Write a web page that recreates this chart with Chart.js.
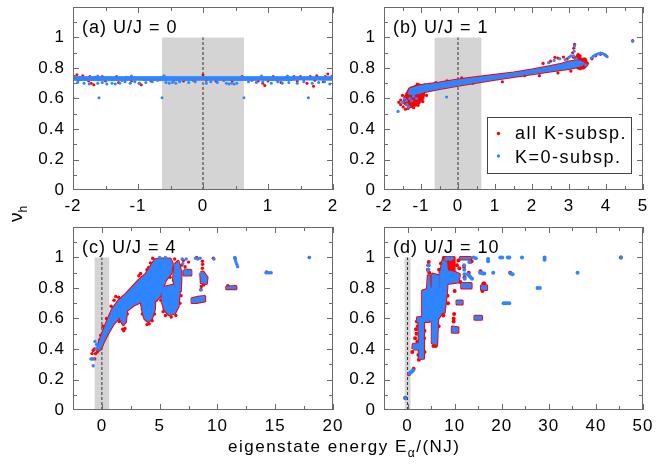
<!DOCTYPE html>
<html>
<head>
<meta charset="utf-8">
<title>nu_h vs eigenstate energy</title>
<script src="https://cdn.jsdelivr.net/npm/chart.js@4"></script>
<style>
  body { margin: 0; background: #fff; width: 668px; height: 470px; position: relative; overflow: hidden;
         font-family: 'Liberation Sans', Arial, Helvetica, sans-serif; }
  canvas { position: absolute; }
  .lab { position: absolute; color: #000; white-space: nowrap; }
  .lab sub { font-size: 12px; vertical-align: baseline; position: relative; top: 5px; }
</style>
</head>
<body>
<canvas id="pa" width="345" height="222" style="left:0;top:0"></canvas>
<canvas id="pb" width="338" height="222" style="left:330px;top:0"></canvas>
<canvas id="pc" width="345" height="222" style="left:0;top:220px"></canvas>
<canvas id="pd" width="338" height="222" style="left:330px;top:220px"></canvas>
<div class="lab" id="ylab" style="left:1px;top:202px;width:30px;height:24px;line-height:24px;text-align:center;font-size:19px;transform:rotate(-90deg)">ν<sub>h</sub></div>
<div class="lab" id="xlab" style="left:228px;top:437px;line-height:20px;font-size:17px;letter-spacing:1.5px">eigenstate energy E<sub>α</sub>/(NJ)</div>
<script>
// panel set-up
const panelTitles = ['(a) U/J = 0', '(b) U/J = 1', '(c) U/J = 4', '(d) U/J = 10'];
const xMin = [-2, -2, -2.5, -5];
const xMax = [2, 5, 20, 50];
const xStep = [1, 1, 5, 10];
const xMinorStep = [0.5, 0.5, 2.5, 5];
const yMin = 0, yMax = 1.2, yStep = 0.2, yMinorStep = 0.1;
const legendLabels = ['all K-subsp.', 'K=0-subsp.'];

// grey window around E=0 and the dashed E=0 line (same in every panel)
const shadeBox = [[-0.63, 0], [0.63, 0], [0.63, 1], [-0.63, 1]];
const zeroLine = [[0, 0], [0, 1]];

// (a) U/J = 0
const blueBandA = [[[-2, 0.743], [2, 0.743], [2, 0.72], [1.5, 0.722], [1.2, 0.716], [0.9, 0.72], [0.5, 0.718], [0, 0.72], [-0.5, 0.716], [-1, 0.72], [-1.5, 0.716], [-2, 0.72]]];
const blueA = [[-1.93, 0.705], [-1.83, 0.70], [-1.75, 0.695], [-1.62, 0.70], [-1.55, 0.705], [-1.48, 0.695], [-1.40, 0.70], [-1.35, 0.695],
  [-1.28, 0.70], [-1.20, 0.71], [-1.12, 0.70], [-1.05, 0.71], [-0.98, 0.70], [-0.88, 0.705], [-0.78, 0.71], [-0.57, 0.705], [-0.52, 0.70],
  [-0.47, 0.705], [-0.42, 0.70], [-0.36, 0.71], [-0.22, 0.705], [-0.12, 0.71], [0.05, 0.70], [0.12, 0.71], [0.22, 0.705], [0.36, 0.70],
  [0.40, 0.695], [0.44, 0.70], [0.48, 0.695], [0.52, 0.70], [0.70, 0.71], [0.82, 0.705], [0.92, 0.71], [1.05, 0.70], [1.15, 0.71],
  [1.22, 0.70], [1.32, 0.705], [1.45, 0.70], [1.55, 0.71], [1.68, 0.70], [1.78, 0.705], [1.87, 0.71], [1.95, 0.695],
  [-1.62, 0.748], [-1.1, 0.748], [-0.6, 0.75], [0.9, 0.748], [1.3, 0.748],
  [-2, 0.605], [-1.6, 0.605], [-0.63, 0.605], [0.63, 0.605], [1.62, 0.605], [2, 0.605]];
const redA = [[-1.98, 0.745], [-1.96, 0.73], [-1.94, 0.755], [-1.92, 0.72], [-1.9, 0.74], [-1.88, 0.725], [-1.85, 0.75], [-1.8, 0.735],
  [-1.76, 0.715], [-1.74, 0.745], [-1.72, 0.70], [-1.7, 0.725], [-1.68, 0.69], [-1.66, 0.74], [-1.6, 0.725], [-1.55, 0.745], [-1.5, 0.715],
  [-1.45, 0.735], [-1.4, 0.725], [-1.33, 0.745], [-1.3, 0.705], [-1.25, 0.72], [-1.18, 0.74], [-1.1, 0.715], [-1.05, 0.735], [-0.98, 0.70],
  [-0.95, 0.69], [-0.9, 0.725], [-0.8, 0.715], [-0.7, 0.72], [-0.6, 0.745], [-0.45, 0.72], [-0.3, 0.715], [-0.15, 0.72], [0, 0.755],
  [0.05, 0.72], [0.2, 0.715], [0.32, 0.72], [0.45, 0.715], [0.6, 0.745], [0.75, 0.72], [0.85, 0.715], [0.92, 0.70], [0.95, 0.685],
  [1.0, 0.715], [1.08, 0.745], [1.15, 0.72], [1.2, 0.705], [1.28, 0.74], [1.35, 0.725], [1.4, 0.745], [1.45, 0.715], [1.5, 0.745],
  [1.55, 0.725], [1.6, 0.70], [1.65, 0.745], [1.7, 0.68], [1.72, 0.72], [1.75, 0.75], [1.8, 0.735], [1.85, 0.71], [1.88, 0.745],
  [1.92, 0.76], [1.95, 0.73], [1.98, 0.745]];

// (b) U/J = 1
const blueBandB = [[[-1.3, 0.665], [-1.0, 0.685], [-0.5, 0.702], [0, 0.722], [0.5, 0.737], [1, 0.752], [1.5, 0.768], [2, 0.787], [2.5, 0.81],
  [2.8, 0.825], [3.0, 0.84], [3.2, 0.848], [3.35, 0.842], [3.35, 0.815], [3.0, 0.797], [2.5, 0.78], [2, 0.762], [1.5, 0.744], [1, 0.726],
  [0.5, 0.706], [0, 0.686], [-0.5, 0.665], [-0.9, 0.645], [-1.2, 0.625], [-1.35, 0.63]]];
const redBlobB = [[[-1.45, 0.60], [-1.3, 0.665], [-1.05, 0.69], [-0.9, 0.665], [-0.95, 0.60], [-1.1, 0.56], [-1.3, 0.545], [-1.45, 0.57]],
  [[3.15, 0.82], [3.2, 0.87], [3.25, 0.89], [3.3, 0.86], [3.45, 0.855], [3.48, 0.82], [3.4, 0.80], [3.25, 0.80]]];
const blueB = [[-1.62, 0.515], [-1.5, 0.575], [-1.45, 0.60], [-1.38, 0.56], [-1.3, 0.60], [-1.25, 0.585], [-1.2, 0.615], [-1.12, 0.60],
  [-1.05, 0.64], [-1.0, 0.66], [-1.15, 0.66], [-0.31, 0.61], [-1.4, 0.585], [-1.33, 0.545],
  [3.12, 0.88], [3.14, 0.91], [3.15, 0.945], [3.2, 0.86], [3.28, 0.84], [3.38, 0.83], [3.45, 0.82],
  [3.6, 0.865], [3.65, 0.876], [3.7, 0.884], [3.75, 0.89], [3.8, 0.894], [3.85, 0.897], [3.9, 0.896], [3.95, 0.89], [4.0, 0.882], [4.03, 0.874],
  [4.72, 0.975], [2.6, 0.85], [2.75, 0.86], [2.9, 0.855], [3.0, 0.87], [2.45, 0.835], [3.05, 0.88]];
const redB = [[-1.55, 0.56], [-1.48, 0.545], [-1.42, 0.53], [-1.35, 0.535], [-1.2, 0.54], [-1.08, 0.555], [-0.95, 0.58], [-0.85, 0.62],
  [-0.8, 0.655], [-0.9, 0.69], [-1.1, 0.695], [-1.55, 0.59], [-1.6, 0.575], [-1.5, 0.62], [-0.6, 0.705], [-0.3, 0.715], [0.1, 0.735],
  [0.4, 0.70], [1.2, 0.71], [1.8, 0.75], [2.2, 0.75], [2.7, 0.768], [3.05, 0.78], [3.3, 0.795],
  [2.3, 0.83], [2.5, 0.845], [2.62, 0.87], [2.7, 0.865], [2.85, 0.872], [2.95, 0.86], [3.1, 0.90], [3.13, 0.93], [3.15, 0.955],
  [3.12, 0.87], [3.3, 0.88], [3.42, 0.86], [3.5, 0.83], [3.62, 0.86], [3.72, 0.88], [3.85, 0.89], [3.98, 0.885], [4.72, 0.98]];

// (c) U/J = 4
const blueBlobC = [
  [[-0.3, 0.43], [0.3, 0.55], [0.9, 0.66], [1.5, 0.72], [2.1, 0.76], [2.7, 0.81], [3.2, 0.85], [3.8, 0.89], [4.3, 0.95], [4.6, 0.985],
   [5.2, 0.99], [5.9, 0.99], [6.1, 0.96], [6.0, 0.90], [5.5, 0.85], [5.25, 0.80], [5.0, 0.745], [4.7, 0.72], [4.0, 0.72], [3.4, 0.71], [2.8, 0.69],
   [2.2, 0.655], [1.6, 0.615], [1.0, 0.565], [0.5, 0.50], [0.1, 0.44], [-0.1, 0.40], [-0.3, 0.39]],
  [[1.6, 0.64], [2.15, 0.665], [2.05, 0.58], [1.85, 0.56], [1.65, 0.59]],
  [[3.4, 0.73], [4.6, 0.77], [4.55, 0.66], [4.3, 0.60], [4.0, 0.58], [3.7, 0.60], [3.5, 0.66]],
  [[5.2, 0.80], [6.2, 0.82], [6.7, 0.77], [6.6, 0.68], [6.3, 0.635], [5.8, 0.625], [5.4, 0.66], [5.2, 0.72]],
  [[6.3, 0.95], [6.6, 0.975], [6.85, 0.90], [6.8, 0.78], [6.45, 0.78], [6.2, 0.86]],
  [[7.1, 0.92], [7.7, 0.915], [7.7, 0.885], [7.1, 0.885]],
  [[7.8, 0.705], [8.2, 0.705], [8.9, 0.715], [8.9, 0.745], [8.3, 0.74], [7.8, 0.73]],
  [[8.55, 0.90], [8.75, 0.905], [9.1, 0.87], [9.05, 0.83], [8.6, 0.835]],
  [[10.8, 0.795], [11.6, 0.795], [11.6, 0.81], [10.8, 0.807]]];
const blueC = [[-0.95, 0.335], [-0.72, 0.335], [-0.75, 0.29], [-0.6, 0.45], [-0.45, 0.43], [-0.35, 0.41], [-0.5, 0.40], [0.0, 0.47],
  [0.3, 0.50], [7.0, 0.96], [6.95, 0.99], [8.57, 0.786], [8.1, 0.995], [8.3, 0.99], [8.5, 0.995], [9.7, 0.99], [11.5, 1.0],
  [11.55, 0.985], [11.6, 0.97], [11.68, 0.955], [11.75, 0.94], [14.2, 0.9], [14.35, 0.9], [14.5, 0.9], [14.65, 0.9], [17.95, 1.0],
  [7.3, 0.99], [5.0, 1.0], [5.5, 1.0]];
const redC = [[-0.85, 0.37], [-0.75, 0.39], [-0.65, 0.40], [-0.55, 0.37], [-0.85, 0.335], [-0.62, 0.335], [-0.4, 0.38], [-0.2, 0.46],
  [-0.1, 0.49], [0.1, 0.55], [0.4, 0.6], [0.8, 0.68], [1.05, 0.72], [1.2, 0.745], [1.45, 0.74], [1.4, 0.62], [1.5, 0.58], [1.8, 0.53],
  [1.9, 0.52], [2.0, 0.535], [2.2, 0.63], [2.5, 0.69], [3.0, 0.70], [3.2, 0.88], [3.35, 0.895], [3.5, 0.87], [3.9, 0.92], [4.05, 0.935],
  [4.2, 0.965], [4.4, 0.995], [3.45, 0.69], [3.5, 0.63], [3.9, 0.56], [4.1, 0.565], [4.35, 0.585], [4.55, 0.63], [4.7, 0.72], [5.0, 0.78],
  [5.1, 0.72], [5.3, 0.645], [5.5, 0.62], [6.0, 0.61], [6.4, 0.62], [6.75, 0.70], [6.85, 0.75], [5.9, 0.87], [6.2, 0.85], [6.45, 0.82],
  [6.3, 0.99], [6.9, 0.95], [7.05, 0.98], [7.2, 0.94], [7.5, 0.97], [8.7, 0.93], [8.72, 0.955], [8.7, 0.975], [8.8, 0.82], [8.6, 0.81],
  [8.2, 1.0], [8.57, 0.79], [9.65, 0.995], [11.52, 0.995], [10.9, 0.815], [14.25, 0.905], [17.95, 1.0]];

// (d) U/J = 10
const blueBlobD = [
  [[1.1, 0.40], [3.0, 0.40], [3.1, 0.44], [1.2, 0.43]],
  [[2.5, 0.335], [3.3, 0.34], [3.4, 0.61], [2.4, 0.60]],
  [[2.1, 0.58], [4.5, 0.58], [4.5, 0.61], [2.1, 0.605]],
  [[3.1, 0.60], [3.2, 0.78], [4.2, 0.79], [4.4, 0.88], [4.7, 0.88], [4.8, 0.80], [7.6, 0.80], [7.6, 0.65], [6.5, 0.60], [5.3, 0.58], [4.6, 0.59]],
  [[5.2, 0.44], [6.2, 0.43], [6.4, 0.60], [6.6, 0.88], [5.4, 0.89], [5.3, 0.60]],
  [[6.9, 0.65], [7.8, 0.64], [8.3, 0.78], [8.5, 0.90], [8.3, 0.97], [7.5, 0.98], [7.0, 0.90]],
  [[8.4, 0.83], [10.8, 0.84], [11.0, 0.89], [10.2, 0.90], [9.2, 0.91], [8.4, 0.91]],
  [[9.5, 0.51], [10.6, 0.51], [10.7, 0.54], [9.6, 0.545]],
  [[10.5, 0.695], [11.6, 0.695], [11.6, 0.715], [10.5, 0.715]],
  [[11.2, 0.99], [13.4, 0.99], [13.4, 1.0], [11.2, 1.0]],
  [[11.5, 0.80], [13.5, 0.80], [13.5, 0.83], [11.5, 0.83]],
  [[14.3, 0.595], [15.7, 0.595], [15.7, 0.615], [14.3, 0.615]],
  [[15.7, 0.79], [16.8, 0.79], [16.8, 0.815], [15.7, 0.815]]];
const redBlobD = [[[8.6, 0.91], [9.9, 0.91], [9.9, 1.0], [8.6, 1.0]], [[7.6, 0.95], [8.6, 0.95], [8.6, 1.0], [7.6, 1.0]]];
const blueD = [[-0.5, 0.077], [0.4, 0.24], [0.6, 0.245], [0.8, 0.25], [1.0, 0.255], [1.2, 0.26], [8.2, 0.99], [8.6, 0.995], [9.0, 0.99],
  [9.4, 0.995], [4.5, 0.95], [4.45, 0.92], [12.0, 0.95], [12.05, 0.92], [12.1, 0.89], [12.15, 0.86], [12.8, 0.89], [13.1, 0.88],
  [13.4, 0.87], [13.7, 0.86], [13.1, 0.97], [15.4, 0.90], [15.7, 0.90], [16.0, 0.895], [16.3, 0.895], [18.2, 0.90], [17.1, 0.975],
  [17.1, 0.99], [19.7, 1.0], [20.1, 1.0], [21.3, 1.0], [21.6, 1.0], [20.4, 0.70], [20.8, 0.70], [21.2, 0.70], [21.6, 0.70],
  [21.9, 0.895], [22.3, 0.89], [24.3, 1.0], [27.6, 0.80], [28.1, 0.80], [29.1, 1.0], [29.1, 0.985], [36.1, 0.90], [45.3, 1.0],
  [14.0, 1.0], [14.5, 0.995]];
const redD = [[-0.5, 0.08], [0.3, 0.235], [1.3, 0.27], [1.0, 0.38], [1.4, 0.42], [1.6, 0.47], [1.8, 0.53], [1.9, 0.50], [2.1, 0.45],
  [2.2, 0.55], [2.0, 0.58], [2.3, 0.36], [2.4, 0.33], [3.6, 0.38], [3.5, 0.47], [3.6, 0.52], [4.3, 0.92], [4.4, 0.95], [4.5, 0.97],
  [4.6, 0.9], [5.0, 0.85], [5.5, 0.42], [6.0, 0.42], [6.6, 0.55], [6.7, 0.92], [7.1, 0.96], [7.6, 0.62], [8.5, 0.75], [8.6, 0.70],
  [9.8, 0.60], [9.8, 0.58], [9.9, 0.63], [10.0, 0.78], [11.2, 0.84], [12.0, 0.94], [12.1, 0.87], [13.0, 0.90], [13.3, 0.97],
  [13.6, 0.975], [15.5, 0.91], [16.3, 0.83], [16.1, 0.83], [15.9, 0.78], [21.8, 0.90], [45.3, 1.0], [11.0, 0.93], [10.5, 0.95], [10.8, 0.98]];

const blueShapes = [blueBandA, blueBandB, blueBlobC, blueBlobD];
const redShapes = [[], redBlobB, [], redBlobD];
const bluePts = [blueA, blueB, blueC, blueD];
const redPts = [redA, redB, redC, redD];

const RED = '#ff0000', BLUE = '#2f85ff', SHADE = '#d4d4d4', FRAME = '#6a6a6a';
const rimWidth = [0, 3, 3, 3];
const dotR = [1.5, 1.6, 1.7, 2];
const axisW = [73, 54, 73, 54];
const padRight = [12, 25, 12, 25];

Chart.defaults.font.family = "'Liberation Sans', Arial, Helvetica, sans-serif";
Chart.defaults.color = '#000';

const toXY = pts => pts.map(p => ({ x: p[0], y: p[1] }));

function shape(poly, fillCol, bw, lineCol, order) {
  return { data: toXY(poly.concat([poly[0]])), showLine: true, fill: 'shape', backgroundColor: fillCol,
           borderColor: lineCol, borderWidth: bw, borderJoinStyle: 'round', pointRadius: 0, pointHoverRadius: 0, tension: 0, order: order };
}

const framePlugin = {
  id: 'frame',
  beforeDraw(chart) { chart.ctx.letterSpacing = '1px'; },
  afterDraw(chart) {
    const i = chart.options.plugins.frame.panel;
    const { ctx, chartArea: a } = chart;
    const xs = chart.scales.x, ys = chart.scales.y;
    ctx.save();
    ctx.strokeStyle = FRAME;
    ctx.lineWidth = 1;
    ctx.strokeRect(a.left + 0.5, a.top + 0.5, a.right - a.left - 1, a.bottom - a.top - 1);
    ctx.beginPath();
    for (let k = Math.ceil(xMin[i] / xMinorStep[i]); k * xMinorStep[i] <= xMax[i] + 1e-9; k++) {
      const v = k * xMinorStep[i];
      const major = Math.abs(v / xStep[i] - Math.round(v / xStep[i])) < 1e-6;
      const len = major ? 6 : 4;
      const px = Math.round(xs.getPixelForValue(v)) + 0.5;
      ctx.moveTo(px, a.bottom); ctx.lineTo(px, a.bottom - len);
      ctx.moveTo(px, a.top); ctx.lineTo(px, a.top + len);
    }
    for (let k = 1; k * yMinorStep <= yMax - 1e-9; k++) {
      const v = k * yMinorStep;
      const len = k % 2 === 0 ? 6 : 4;
      const py = Math.round(ys.getPixelForValue(v)) + 0.5;
      ctx.moveTo(a.left, py); ctx.lineTo(a.left + len, py);
      ctx.moveTo(a.right, py); ctx.lineTo(a.right - len, py);
    }
    ctx.stroke();
    ctx.fillStyle = '#000';
    ctx.letterSpacing = '1px';
    ctx.font = "18px 'Liberation Sans', Arial, sans-serif";
    ctx.textAlign = 'left';
    ctx.textBaseline = 'alphabetic';
    ctx.fillText(panelTitles[i], a.left + 9, a.top + 26);
    if (i === 1) {
      const lx = a.left + 103, ly = a.top + 110;
      ctx.strokeStyle = '#444';
      ctx.strokeRect(lx + 0.5, ly + 0.5, 144, 56);
      ctx.letterSpacing = '1.5px';
      [RED, BLUE].forEach((c, k) => {
        ctx.fillStyle = c;
        ctx.beginPath();
        ctx.arc(lx + 11.5, ly + 16.5 + 22.5 * k, 1.7, 0, Math.PI * 2);
        ctx.fill();
        ctx.fillStyle = '#000';
        ctx.fillText(legendLabels[k], lx + 28, ly + 21.5 + 24 * k);
      });
    }
    ctx.restore();
  }
};

function makePanel(id, i) {
  const ds = [];
  ds.push(shape(shadeBox, SHADE, 1, 'rgba(0,0,0,0)', 30));
  ds.push({ data: toXY(zeroLine), showLine: true, fill: false, borderColor: '#333', borderWidth: 1, borderDash: [3, 2],
            pointRadius: 0, pointHoverRadius: 0, order: 29 });
  redShapes[i].forEach(p => ds.push(shape(p, RED, 3, RED, 20)));
  if (rimWidth[i] > 0) blueShapes[i].forEach(p => ds.push(shape(p, RED, rimWidth[i], RED, 19)));
  ds.push({ data: toXY(redPts[i]), backgroundColor: RED, borderWidth: 0, pointRadius: dotR[i], pointHoverRadius: dotR[i], order: 15 });
  blueShapes[i].forEach(p => ds.push(shape(p, BLUE, 1, BLUE, 10)));
  ds.push({ data: toXY(bluePts[i]), backgroundColor: BLUE, borderWidth: 0, pointRadius: dotR[i], pointHoverRadius: dotR[i], order: 5 });

  new Chart(document.getElementById(id), {
    type: 'scatter',
    data: { datasets: ds },
    plugins: [framePlugin],
    options: {
      responsive: false,
      animation: false,
      devicePixelRatio: 1,
      events: [],
      layout: { padding: { top: 7, right: padRight[i], left: 0, bottom: 0 } },
      plugins: { legend: { display: false }, tooltip: { enabled: false }, frame: { panel: i } },
      scales: {
        x: {
          type: 'linear', min: xMin[i], max: xMax[i],
          grid: { display: false, drawTicks: false }, border: { display: false },
          ticks: { stepSize: xStep[i], includeBounds: false, autoSkip: false, maxRotation: 0, padding: 6,
                   font: { size: 17 }, color: '#000' },
          afterFit: s => { s.height = 32; s.paddingLeft = 0; s.paddingRight = 0; }
        },
        y: {
          type: 'linear', min: yMin, max: yMax,
          grid: { display: false, drawTicks: false }, border: { display: false },
          ticks: { stepSize: yStep, padding: 8, font: { size: 17 }, color: '#000',
                   callback: v => String(Number(v.toFixed(2))) },
          afterBuildTicks: s => { s.ticks = s.ticks.filter(t => t.value < 1.01); },
          afterFit: s => { s.width = axisW[i]; s.paddingTop = 0; s.paddingBottom = 0; }
        }
      }
    }
  });
}

makePanel('pa', 0);
makePanel('pb', 1);
makePanel('pc', 2);
makePanel('pd', 3);
</script>
</body>
</html>
